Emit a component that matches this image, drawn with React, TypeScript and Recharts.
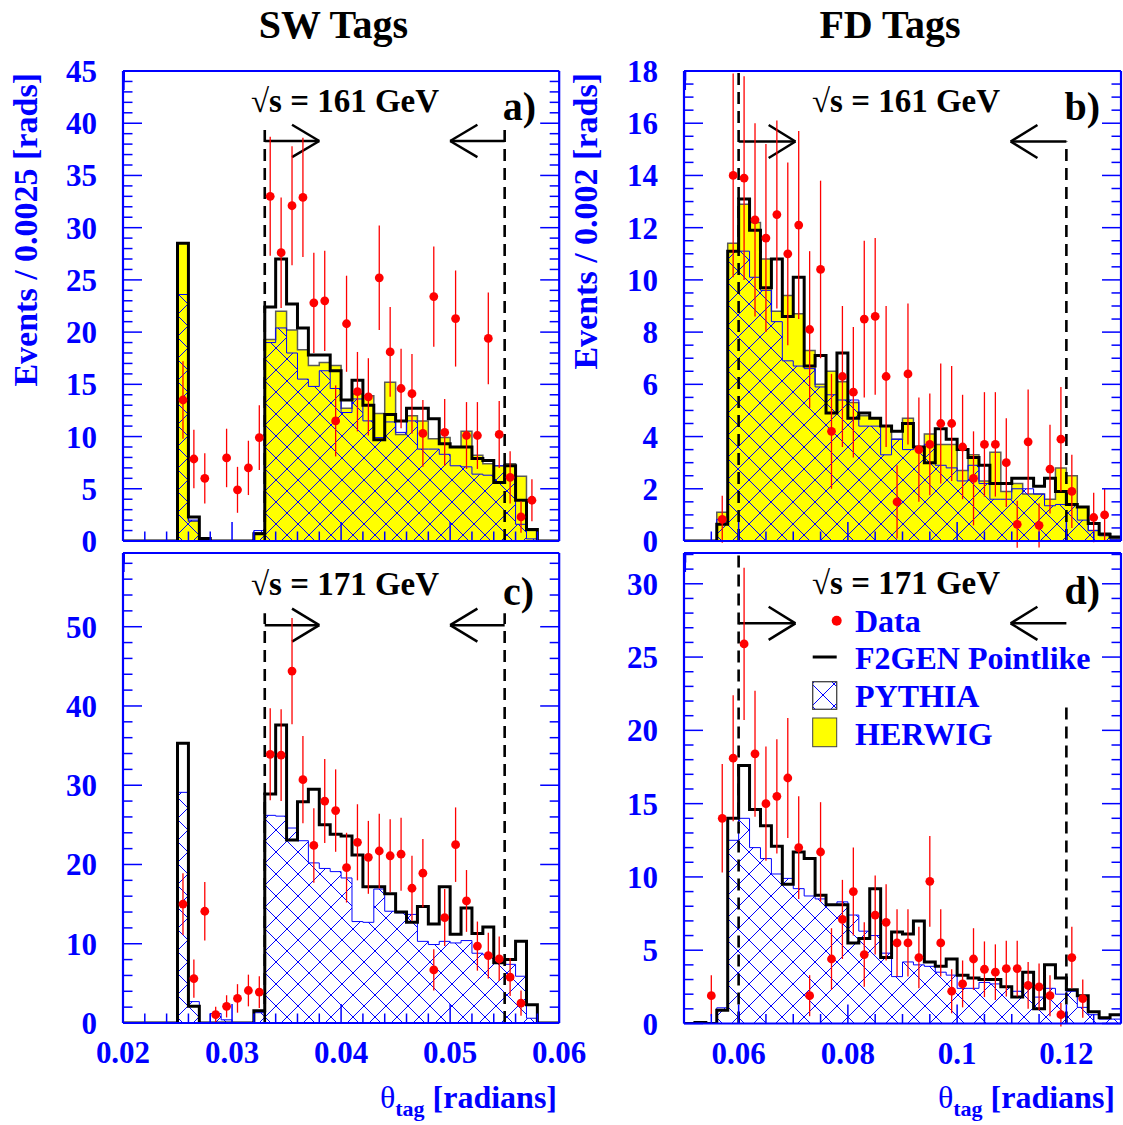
import { ComposedChart, Area, Line, Scatter, ErrorBar, XAxis, YAxis, ReferenceLine } from 'recharts'

const BLUE = '#0000ff'
const RED = '#ff0000'
const FONT = '"Liberation Serif", "Times New Roman", serif'

// bin contents, 40 bins per panel (SW: 0.001 wide from 0.02, FD: 0.002 wide from 0.05)
const HERWIG_A = [0, 0, 0, 0, 0, 28.5, 1.9, 0.25, 0, 0, 0, 0, 0.8, 19.3, 22.0, 20.2, 18.3, 16.8, 17.1, 16.8, 12.7, 14.1, 13.9, 12.2, 15.2, 10.2, 12.0, 11.5, 9.8, 9.9, 9.0, 10.5, 8.2, 7.4, 7.2, 7.4, 6.2, 1.0, 0, 0]
const PYTHIA_A = [0, 0, 0, 0, 0, 23.6, 2.0, 0.2, 0, 0, 0, 0, 1.0, 19.0, 20.4, 18.0, 15.5, 14.8, 16.3, 14.6, 12.3, 13.6, 11.5, 9.9, 11.4, 10.4, 11.5, 8.8, 8.8, 8.3, 7.2, 7.1, 6.4, 6.3, 7.2, 6.1, 1.6, 0.2, 0, 0]
const F2GEN_A = [0, 0, 0, 0, 0, 28.5, 2.3, 0.25, 0, 0, 0, 0, 0.7, 22.4, 27.0, 22.7, 20.4, 17.8, 17.8, 16.3, 13.5, 15.4, 13.0, 9.7, 12.1, 11.5, 12.7, 12.7, 11.7, 9.3, 9.0, 9.0, 7.9, 7.7, 5.6, 7.2, 3.9, 1.1, 0, 0]
const DATA_A = [null, null, null, null, null, 13.5, 7.85, 6.0, null, 7.95, 4.9, 7.0, 9.9, 33.0, 27.6, 32.1, 32.9, 22.8, 23.0, 11.5, 20.8, 14.3, 13.8, 25.2, 18.1, 14.6, 14.1, 10.3, 23.4, 10.4, 21.3, 10.1, 10.1, 19.4, 10.2, 6.1, 2.3, 3.9, null, null]
const ERR_A = [null, null, null, null, null, 3.7, 2.8, 2.4, null, 2.8, 2.2, 2.6, 3.1, 5.7, 5.3, 5.7, 5.7, 4.8, 4.8, 3.4, 4.6, 3.8, 3.7, 5.0, 4.3, 3.8, 3.8, 3.2, 4.8, 3.2, 4.6, 3.2, 3.2, 4.4, 3.2, 2.5, 1.5, 2.0, null, null]

const HERWIG_B = [0, 0, 0, 1.1, 11.4, 12.9, 12.2, 10.8, 8.8, 9.4, 8.7, 7.3, 6.0, 6.5, 6.1, 5.3, 4.8, 4.7, 4.4, 3.9, 4.7, 3.6, 4.1, 3.7, 3.7, 2.7, 3.3, 2.3, 3.4, 1.9, 2.2, 1.8, 1.8, 1.6, 2.8, 2.5, 1.3, 0.4, 0.3, 0.1]
const PYTHIA_B = [0, 0, 0, 0.83, 11.1, 11.1, 10.1, 9.6, 8.4, 6.9, 6.7, 6.6, 5.9, 5.6, 5.4, 5.4, 4.4, 4.4, 3.3, 3.9, 3.5, 3.6, 3.7, 2.9, 2.8, 2.3, 2.9, 2.2, 1.6, 1.6, 2.0, 2.0, 1.8, 1.35, 1.4, 1.4, 0.8, 0.4, 0.2, 0.05]
const F2GEN_B = [0, 0, 0, 0.64, 11.1, 13.1, 11.9, 9.7, 10.8, 8.6, 10.1, 6.7, 7.1, 4.9, 7.2, 4.7, 4.9, 4.7, 4.4, 4.2, 4.5, 3.6, 3.0, 4.3, 3.9, 3.5, 3.2, 2.9, 2.2, 2.2, 2.4, 2.4, 2.1, 2.4, 1.9, 1.4, 1.3, 0.67, 0.26, 0.15]
const DATA_B = [null, null, null, 0.83, 14.0, 13.9, 12.3, 11.6, 12.5, 11.0, 12.1, 8.1, 10.4, 4.2, 6.3, 5.7, 8.5, 8.6, 6.3, 1.5, 6.4, 3.5, 3.7, 4.5, 4.5, 3.6, 2.4, 3.7, 3.7, 3.0, 0.64, 3.8, 0.6, 2.75, 3.9, 1.9, null, 0.9, 1.0, null]
const ERR_B = [null, null, null, 0.9, 3.9, 3.9, 3.7, 3.6, 3.6, 3.5, 3.6, 3.0, 3.4, 2.2, 2.7, 2.5, 3.0, 3.0, 2.7, 1.4, 2.7, 2.0, 1.95, 2.3, 2.2, 2.0, 1.8, 2.0, 2.0, 1.7, 0.9, 2.0, 0.85, 1.7, 2.0, 1.4, null, 0.95, 1.0, null]

const PYTHIA_C = [0, 0, 0, 0, 0, 29.1, 2.7, 0, 1.2, 0.4, 0, 0, 1.3, 26.2, 26.1, 24.6, 23.0, 20.2, 19.5, 19.1, 18.3, 12.8, 12.7, 16.9, 14.1, 13.9, 13.7, 10.3, 9.9, 10.3, 10.1, 10.4, 8.8, 8.6, 8.0, 7.4, 5.9, 0.6, 0, 0]
const F2GEN_C = [0, 0, 0, 0, 0, 35.3, 2.1, 0, 0, 0, 0, 0, 1.55, 28.9, 37.6, 23.1, 27.9, 29.5, 25.0, 23.8, 23.6, 21.2, 17.2, 17.2, 16.3, 14.0, 12.7, 14.7, 12.5, 17.2, 11.2, 14.5, 11.3, 12.1, 7.6, 8.0, 10.3, 2.3, 0, 0]
const DATA_C = [null, null, null, null, null, 15.0, 5.6, 14.1, 1.05, 2.1, 3.1, 4.1, 3.9, 33.9, 33.8, 44.4, 30.7, 22.4, 28.0, 26.8, 19.6, 22.8, 20.9, 21.7, 21.1, 21.3, 17.0, 18.9, 6.7, 13.3, 22.5, 15.4, 9.7, 8.5, 8.1, 5.8, 2.5, null, null, null]
const ERR_C = [null, null, null, null, null, 3.9, 2.4, 3.7, 1.0, 1.4, 1.8, 2.0, 2.0, 5.8, 5.8, 6.7, 5.5, 4.7, 5.3, 5.2, 4.4, 4.8, 4.6, 4.7, 4.6, 4.6, 4.1, 4.3, 2.6, 3.6, 4.7, 3.9, 3.1, 2.9, 2.8, 2.4, 1.6, null, null, null]

const PYTHIA_D = [0, 0.07, 0, 1.07, 12.5, 14.0, 12.0, 11.25, 10.2, 9.9, 9.2, 8.7, 8.5, 8.1, 8.3, 7.4, 6.3, 6.0, 4.8, 3.2, 4.2, 4.0, 3.9, 3.5, 3.3, 2.4, 2.4, 2.8, 2.7, 2.5, 2.2, 2.6, 1.8, 2.4, 2.0, 2.2, 1.1, 0.6, 0.3, 0.3]
const F2GEN_D = [0, 0.07, 0, 0.9, 14.0, 17.6, 14.6, 13.5, 12.1, 9.5, 11.7, 11.25, 8.75, 8.1, 8.1, 5.5, 5.8, 9.2, 4.5, 6.25, 6.1, 7.0, 4.2, 3.9, 4.4, 3.3, 3.1, 3.0, 3.0, 2.5, 1.8, 3.5, 1.0, 4.0, 3.1, 2.3, 1.9, 0.8, 0.4, 0.6]
const DATA_D = [null, null, 1.9, 14.0, 18.1, 25.9, 18.4, 15.0, 15.5, 16.75, 12.0, 1.9, 11.7, 4.4, 7.1, 9.0, 4.7, 7.4, 6.9, 5.5, 5.5, 4.5, 9.7, 5.5, 2.2, 2.7, 4.4, 3.7, 3.5, 3.75, 3.75, 2.6, 2.5, 1.9, 0.6, 4.5, 1.7, null, null, null]
const ERR_D = [null, null, 1.4, 3.7, 4.3, 5.2, 4.3, 3.9, 3.9, 4.1, 3.5, 1.4, 3.4, 2.1, 2.7, 3.0, 2.2, 2.7, 2.6, 2.3, 2.3, 2.1, 3.1, 2.3, 1.5, 1.6, 2.1, 1.9, 1.9, 1.9, 1.9, 1.6, 1.6, 1.4, 0.8, 2.1, 1.3, null, null, null]

// axis ticks
const SW_X_MAJOR = [0.02, 0.03, 0.04, 0.05, 0.06]
const FD_X_MAJOR = [0.06, 0.08, 0.1, 0.12]
const Y_MAJOR_A = [0, 5, 10, 15, 20, 25, 30, 35, 40, 45]
const Y_MAJOR_B = [0, 2, 4, 6, 8, 10, 12, 14, 16, 18]
const Y_MAJOR_C = [0, 10, 20, 30, 40, 50]
const Y_MAJOR_D = [0, 5, 10, 15, 20, 25, 30]

type Num = number | null

interface PanelSpec {
  id: string
  left: number
  top: number
  width: number
  height: number
  mr: number
  mb: number
  xLo: number
  xHi: number
  binW: number
  xMajor: number[]
  xMinor: number
  xLabels: boolean
  yMax: number
  yMajor: number[]
  yMinor: number
  herwig?: number[]
  pythia: number[]
  f2gen: number[]
  data: Num[]
  err: Num[]
  cutLo: number
  cutHi: number
  cutLoTop: number
  cutHiTop: number
  arrowY: number
  tipR: number
  tipL: number
  armDx: number
  armDy: number
}

const stepTicks = (lo: number, hi: number, step: number) => {
  const n = Math.floor((hi - lo) / step + 1e-6)
  return Array.from({ length: n + 1 }, (_, i) => +(lo + i * step).toFixed(6))
}

const fmt = (v: number) => String(+v.toFixed(4))

const makeTick = (side: 'bottom' | 'top' | 'left' | 'right', majors: number[], labels: boolean) =>
  (p: any) => {
    const v = p.payload.value as number
    const major = majors.some((m) => Math.abs(m - v) < 1e-7)
    const L = major ? 19 : 9.5
    const { x, y } = p
    let x2 = x
    let y2 = y
    if (side === 'bottom') y2 = y - L
    if (side === 'top') y2 = y + L
    if (side === 'left') x2 = x + L
    if (side === 'right') x2 = x - L
    return (
      <g>
        <line x1={x} y1={y} x2={x2} y2={y2} stroke={BLUE} strokeWidth={1.5} />
        {labels && major && side === 'bottom' && (
          <text x={x} y={y + 40.5} textAnchor="middle" fontSize={31} fontWeight="bold" fill={BLUE} fontFamily={FONT}>
            {fmt(v)}
          </text>
        )}
        {labels && major && side === 'left' && (
          <text x={x - 26} y={y + 11} textAnchor="end" fontSize={31} fontWeight="bold" fill={BLUE} fontFamily={FONT}>
            {fmt(v)}
          </text>
        )}
      </g>
    )
  }

const CircleDot = (p: any) => <circle cx={p.cx} cy={p.cy} r={4.4} fill={RED} />

function Panel({ s }: { s: PanelSpec }) {
  const ML = 100
  const MT = 20
  const rows = []
  for (let i = 0; i <= 40; i++) {
    const j = Math.min(i, 39)
    rows.push({
      x: +(s.xLo + i * s.binW).toFixed(4),
      herwig: s.herwig ? s.herwig[j] : 0,
      pythia: s.pythia[j],
      f2gen: s.f2gen[j],
    })
  }
  const pts = s.data
    .map((v, i) => (v == null ? null : { x: +(s.xLo + (i + 0.5) * s.binW).toFixed(5), y: v, err: s.err[i] }))
    .filter((p) => p !== null)
  const xTicks = stepTicks(s.xLo, s.xHi, s.xMinor)
  const yTicks = stepTicks(0, s.yMax, s.yMinor)
  const hatch = `hatch-${s.id}`
  const ax = { xAxisId: 'b', yAxisId: 'l', ifOverflow: 'visible' as const }
  const arrow = { ...ax, stroke: '#000', strokeWidth: 2.5 }
  const dash = { ...ax, stroke: '#000', strokeWidth: 2.6, strokeDasharray: '12 7' }
  const a = s.arrowY
  // axes take 1px each, so the margins are one less than the plot offset
  const axisProps = {
    type: 'number' as const,
    allowDataOverflow: true,
    interval: 0 as const,
    tickSize: 0,
    tickMargin: 0,
    tickLine: false,
    axisLine: { stroke: BLUE, strokeWidth: 2.2 },
  }

  return (
    <div style={{ position: 'absolute', left: s.left - ML, top: s.top - MT }}>
      <ComposedChart
        width={s.width + ML + s.mr}
        height={s.height + MT + s.mb}
        data={rows}
        margin={{ top: MT - 1, right: s.mr - 1, bottom: s.mb - 1, left: ML - 1 }}
      >
        <defs>
          <pattern id={hatch} patternUnits="userSpaceOnUse" width={22} height={22}>
            <path d="M-2,-2 L24,24 M24,-2 L-2,24" stroke={BLUE} strokeWidth={1} fill="none" />
          </pattern>
        </defs>
        <XAxis
          {...axisProps}
          xAxisId="b"
          dataKey="x"
          domain={[s.xLo, s.xHi]}
          ticks={xTicks}
          height={1}
          tick={makeTick('bottom', s.xMajor, s.xLabels)}
        />
        <XAxis
          {...axisProps}
          xAxisId="t"
          orientation="top"
          domain={[s.xLo, s.xHi]}
          ticks={xTicks}
          height={1}
          tick={makeTick('top', s.xMajor, false)}
        />
        <YAxis
          {...axisProps}
          yAxisId="l"
          domain={[0, s.yMax]}
          ticks={yTicks}
          width={1}
          tick={makeTick('left', s.yMajor, true)}
        />
        <YAxis
          {...axisProps}
          yAxisId="r"
          orientation="right"
          domain={[0, s.yMax]}
          ticks={yTicks}
          width={1}
          tick={makeTick('right', s.yMajor, false)}
        />
        {s.herwig && (
          <Area
            xAxisId="b"
            yAxisId="l"
            type="stepAfter"
            dataKey="herwig"
            fill="#ffff00"
            fillOpacity={1}
            stroke="#5a5a5a"
            strokeWidth={1.5}
            dot={false}
            activeDot={false}
            isAnimationActive={false}
          />
        )}
        <Area
          xAxisId="b"
          yAxisId="l"
          type="stepAfter"
          dataKey="pythia"
          fill={`url(#${hatch})`}
          fillOpacity={1}
          stroke={BLUE}
          strokeWidth={1}
          dot={false}
          activeDot={false}
          isAnimationActive={false}
        />
        <Line
          xAxisId="b"
          yAxisId="l"
          type="stepAfter"
          dataKey="f2gen"
          stroke="#000"
          strokeWidth={3}
          strokeLinejoin="miter"
          dot={false}
          activeDot={false}
          isAnimationActive={false}
        />
        <ReferenceLine {...dash} segment={[{ x: s.cutLo, y: 0 }, { x: s.cutLo, y: s.cutLoTop }]} />
        <ReferenceLine {...dash} segment={[{ x: s.cutHi, y: 0 }, { x: s.cutHi, y: s.cutHiTop }]} />
        <ReferenceLine {...arrow} segment={[{ x: s.cutLo, y: a }, { x: s.tipR, y: a }]} />
        <ReferenceLine {...arrow} segment={[{ x: s.tipR - s.armDx, y: a + s.armDy }, { x: s.tipR, y: a }]} />
        <ReferenceLine {...arrow} segment={[{ x: s.tipR - s.armDx, y: a - s.armDy }, { x: s.tipR, y: a }]} />
        <ReferenceLine {...arrow} segment={[{ x: s.cutHi, y: a }, { x: s.tipL, y: a }]} />
        <ReferenceLine {...arrow} segment={[{ x: s.tipL + s.armDx, y: a + s.armDy }, { x: s.tipL, y: a }]} />
        <ReferenceLine {...arrow} segment={[{ x: s.tipL + s.armDx, y: a - s.armDy }, { x: s.tipL, y: a }]} />
        <Scatter xAxisId="b" yAxisId="l" data={pts} dataKey="y" shape={CircleDot} isAnimationActive={false}>
          <ErrorBar dataKey="err" direction="y" width={0} stroke={RED} strokeWidth={1.3} isAnimationActive={false} />
        </Scatter>
      </ComposedChart>
    </div>
  )
}

const SW = { xLo: 0.02, xHi: 0.06, binW: 0.001, xMajor: SW_X_MAJOR, xMinor: 0.002, cutLo: 0.033, cutHi: 0.055, tipR: 0.038, tipL: 0.05, armDx: 0.0025 }
const FD = { xLo: 0.05, xHi: 0.13, binW: 0.002, xMajor: FD_X_MAJOR, xMinor: 0.005, cutLo: 0.06, cutHi: 0.12, tipR: 0.0704, tipL: 0.1098, armDx: 0.0049 }

const PANELS: PanelSpec[] = [
  { id: 'a', left: 123.3, top: 71, width: 436.2, height: 470, mr: 40, mb: 30, ...SW, xLabels: false, yMax: 45, yMajor: Y_MAJOR_A, yMinor: 1, herwig: HERWIG_A, pythia: PYTHIA_A, f2gen: F2GEN_A, data: DATA_A, err: ERR_A, cutLoTop: 39.4, cutHiTop: 39.4, arrowY: 38.3, armDy: 1.55 },
  { id: 'b', left: 684, top: 71, width: 437, height: 470, mr: 2, mb: 30, ...FD, xLabels: false, yMax: 18, yMajor: Y_MAJOR_B, yMinor: 0.5, herwig: HERWIG_B, pythia: PYTHIA_B, f2gen: F2GEN_B, data: DATA_B, err: ERR_B, cutLoTop: 18, cutHiTop: 15.3, arrowY: 15.3, armDy: 0.63 },
  { id: 'c', left: 123.3, top: 553.3, width: 436.2, height: 470, mr: 40, mb: 60, ...SW, xLabels: true, yMax: 59.3, yMajor: Y_MAJOR_C, yMinor: 2, pythia: PYTHIA_C, f2gen: F2GEN_C, data: DATA_C, err: ERR_C, cutLoTop: 51.7, cutHiTop: 51.7, arrowY: 50.2, armDy: 2.08 },
  { id: 'd', left: 684, top: 553.3, width: 437, height: 470.5, mr: 2, mb: 60, ...FD, xLabels: true, yMax: 32.1, yMajor: Y_MAJOR_D, yMinor: 1, pythia: PYTHIA_D, f2gen: F2GEN_D, data: DATA_D, err: ERR_D, cutLoTop: 32.1, cutHiTop: 21.8, arrowY: 27.3, armDy: 1.13 },
]

function Overlay() {
  const t = { fontFamily: FONT, fontWeight: 'bold' as const }
  const energy = (x: number, y: number, e: string) => (
    <text x={x} y={y} textAnchor="middle" fontSize={33} fill="#000" {...t}>{`√s = ${e} GeV`}</text>
  )
  const letter = (x: number, y: number, l: string) => (
    <text x={x} y={y} textAnchor="end" fontSize={40} fill="#000" {...t}>{l}</text>
  )
  const xTitle = (x: number) => (
    <text x={x} y={1108} textAnchor="end" fontSize={32} fill={BLUE} {...t}>
      <tspan fontWeight="normal">θ</tspan>
      <tspan fontSize={22} dy={8}>tag</tspan>
      <tspan dy={-8}> [radians]</tspan>
    </text>
  )
  return (
    <svg width={1123} height={1125} style={{ position: 'absolute', left: 0, top: 0, pointerEvents: 'none' }}>
      <defs>
        <pattern id="hatch-legend" patternUnits="userSpaceOnUse" width={22} height={22} x={812} y={684}>
          <path d="M-2,-2 L24,24 M24,-2 L-2,24" stroke={BLUE} strokeWidth={1} fill="none" />
        </pattern>
      </defs>
      <text x={333.5} y={38} textAnchor="middle" fontSize={40} fill="#000" {...t}>SW Tags</text>
      <text x={890} y={38} textAnchor="middle" fontSize={40} fill="#000" {...t}>FD Tags</text>
      <text x={37} y={73} textAnchor="end" fontSize={34} fill={BLUE} transform="rotate(-90 37 73)" {...t}>
        Events / 0.0025 [rads]
      </text>
      <text x={597} y={73} textAnchor="end" fontSize={34} fill={BLUE} transform="rotate(-90 597 73)" {...t}>
        Events / 0.002 [rads]
      </text>
      {xTitle(557)}
      {xTitle(1115)}
      {energy(345, 112, '161')}
      {energy(906, 112, '161')}
      {energy(345, 595, '171')}
      {energy(906, 594, '171')}
      {letter(536, 120, 'a)')}
      {letter(1100, 120, 'b)')}
      {letter(534, 605, 'c)')}
      {letter(1100, 604, 'd)')}
      <circle cx={836.7} cy={620.7} r={5} fill={RED} />
      <line x1={812.7} y1={657} x2={836.7} y2={657} stroke="#000" strokeWidth={3} />
      <rect x={812.7} y={681.7} width={24} height={27.6} fill="#fff" stroke="#444" strokeWidth={1} />
      <rect x={812.7} y={681.7} width={24} height={27.6} fill="url(#hatch-legend)" stroke="#444" strokeWidth={1} />
      <rect x={812.7} y={718} width={24} height={28.7} fill="#ffff00" stroke="#444" strokeWidth={1} />
      <text x={855} y={632} fontSize={32} fill={BLUE} {...t}>Data</text>
      <text x={855} y={669} fontSize={32} fill={BLUE} {...t}>F2GEN Pointlike</text>
      <text x={855} y={707} fontSize={32} fill={BLUE} {...t}>PYTHIA</text>
      <text x={855} y={745} fontSize={32} fill={BLUE} {...t}>HERWIG</text>
    </svg>
  )
}

export default function App() {
  return (
    <div style={{ position: 'relative', width: 1123, height: 1125, overflow: 'hidden', background: '#fff' }}>
      <style>{'html,body{margin:0;padding:0;overflow:hidden;}'}</style>
      {PANELS.map((s) => (
        <Panel key={s.id} s={s} />
      ))}
      <Overlay />
    </div>
  )
}
